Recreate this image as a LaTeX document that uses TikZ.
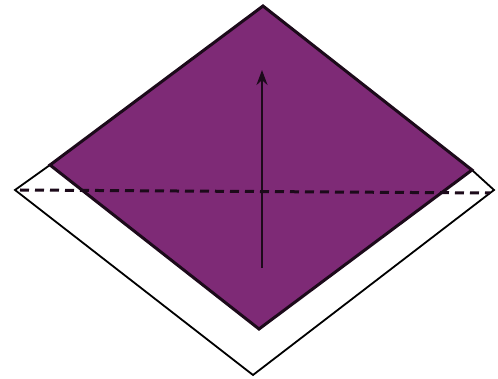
\documentclass[tikz,border=0pt]{standalone}
\usetikzlibrary{arrows.meta}
\definecolor{paperpurple}{RGB}{126,42,118}
\definecolor{edgedark}{RGB}{28,10,26}
\tikzset{
  paper/.style={draw=black, line width=1.8pt, line join=miter},
  coloured/.style={fill=paperpurple, draw=edgedark, line width=3pt, line join=miter},
  foldline/.style={draw=edgedark, line width=3pt, dash pattern=on 9pt off 6pt},
  foldarrow/.style={draw=edgedark, line width=2.4pt, -{Stealth[length=15pt,width=11pt]}}
}
\begin{document}
\begin{tikzpicture}[x=1pt,y=-1pt]
\useasboundingbox (0,0) rectangle (498,379);
% white back layer
\coordinate (wl) at (15,190);
\coordinate (wr) at (494,190);
\coordinate (wb) at (253,375);
\coordinate (pt) at (263,6);
\coordinate (pl) at (50,165);
\coordinate (pr) at (472,170);
\coordinate (pb) at (259,329);
\draw[paper, fill=white] (pl) -- (wl) -- (wb) -- (wr) -- (pr);
\path[coloured] (pt) -- (pr) -- (pb) -- (pl) -- cycle;
\coordinate (dl) at (20,190);
\coordinate (dr) at (490,193);
\draw[foldline] (dl) -- (dr);
\coordinate (as) at (262,268);
\coordinate (ae) at (262,70);
\draw[foldarrow] (as) -- (ae);
\end{tikzpicture}
\end{document}
